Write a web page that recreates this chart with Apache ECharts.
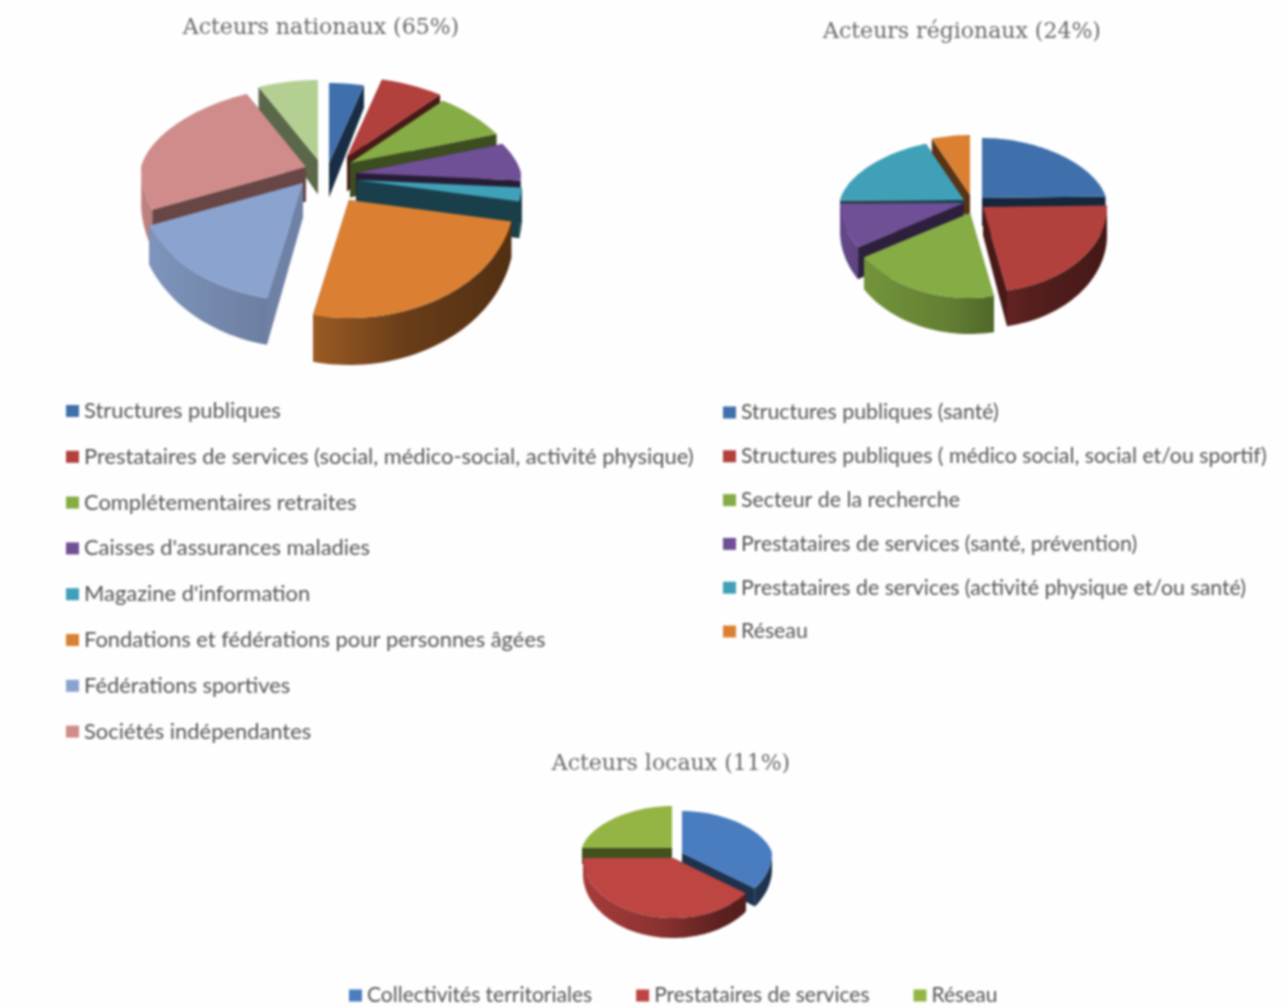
<!DOCTYPE html>
<html><head><meta charset="utf-8">
<script src="https://cdn.jsdelivr.net/npm/echarts@6/dist/echarts.min.js"></script>
<style>html,body{margin:0;padding:0;background:#fefefe}#c{width:1285px;height:1007px;filter:blur(0.9px)}</style>
</head><body><div id="c"></div>
<script>
// ---- data (shares in %) ----
const nationalTitle = 'Acteurs nationaux (65%)';
const nationalLabels = ['Structures publiques','Prestataires de services (social, médico-social, activité physique)','Complétementaires retraites',"Caisses d'assurances maladies","Magazine d'information",'Fondations et fédérations pour personnes âgées','Fédérations sportives','Sociétés indépendantes','Autres (sans légende)'];
const nationalValues = [3.9,6.9,8.3,6.9,1.9,25.6,15.6,24.2,6.7];
const regionalTitle = 'Acteurs régionaux (24%)';
const regionalLabels = ['Structures publiques (santé)','Structures publiques ( médico social, social et/ou sportif)','Secteur de la recherche','Prestataires de services (santé, prévention)','Prestataires de services (activité physique et/ou santé)','Réseau'];
const regionalValues = [24.6,22.3,19.4,8.6,19.4,5.7];
const localTitle = 'Acteurs locaux (11%)';
const localLabels = ['Collectivités territoriales','Prestataires de services','Réseau'];
const localValues = [35,40,25];
// ---- styles ----
const nationalColors = ['#3f70ac','#b2403d','#86ac45','#6f4f96','#3fa0b8','#db8033','#8ba3cf','#cf8c8a','#b4cf92'];
const regionalColors = ['#3f70ac','#b2403d','#86ac45','#6f4f96','#3fa0b8','#db8033'];
const localColors = ['#4a7cc0','#bd4542','#94b444'];
// how far each slice is pulled out of the pie
const nationalPull = [[-1,-9],[17,-15],[20,-9],[26,1],[27,8],[19,28],[-27,11],[-24,-5],[-12,-12]];
const regionalPull = [[10,-4],[11,5],[-2,11],[-8,1],[-8,-2],[-2,-7]];
const localPull = [[7,0],[-2,5],[-3,-5]];
const nationalSide = [.4,.4,.45,.35,.4,.4,.8,.5,.5];
const regionalSide = [.35,.4,.5,.4,.4,.4];
const localSide = [.4,.4,.45];

function shade(hex,f){const n=parseInt(hex.slice(1),16);
  const r=(n>>16)&255,g=(n>>8)&255,b=n&255;
  return 'rgb('+Math.round(r*f)+','+Math.round(g*f)+','+Math.round(b*f)+')';}

const series=[];
function addPie(labels,values,colors,pull,side,geo){
  const total=values.reduce((a,b)=>a+b,0);
  let acc=0;
  labels.forEach((name,i)=>{
    const a0=acc/total*2*Math.PI; acc+=values[i];
    const a1=acc/total*2*Math.PI, mid=(a0+a1)/2;
    const ax=geo.cx+pull[i][0], ay=geo.cy+pull[i][1];
    const proj=a=>{const yn=-Math.cos(a);
      const w=geo.rx*(yn<0?1+0.13*yn:1);
      return [ax+w*Math.sin(a), ay+yn*(yn>0?geo.ryB:geo.ryT), yn];};
    const dep=yn=>geo.dF+(geo.dN-geo.dF)*(yn+1)/2;
    series.push({
      type:'custom',name:name,coordinateSystem:'none',silent:true,animation:false,
      z:Math.round(50-50*Math.cos(mid))+2,
      itemStyle:{color:colors[i]},
      data:[[values[i]]],
      renderItem:function(){
        const c=colors[i], kids=[];
        const n=Math.max(3,Math.round((a1-a0)/(Math.PI/90)));
        const arc=[];for(let k=0;k<=n;k++)arc.push(proj(a0+(a1-a0)*k/n));
        const fill=(pts,f)=>({type:'polygon',shape:{points:pts},style:{fill:f}});
        const sideF=shade(c,side[i]);
        const d0=dep(0);
        [arc[0],arc[n]].forEach(p=>{
          kids.push(fill([[ax,ay],[p[0],p[1]],[p[0],p[1]+dep(p[2])],[ax,ay+d0]],sideF));
        });
        const front=arc.filter(p=>p[2]>-0.02);
        if(front.length>1){
          const pts=front.map(p=>[p[0],p[1]]).concat(front.slice().reverse().map(p=>[p[0],p[1]+dep(p[2])]));
          const grad=new echarts.graphic.LinearGradient(geo.cx-geo.rx-25,0,geo.cx+geo.rx+25,0,[
            {offset:0,color:shade(c,.92)},{offset:.42,color:shade(c,.74)},{offset:.7,color:shade(c,.48)},{offset:1,color:shade(c,.36)}],true);
          kids.push(fill(pts,grad));
        }
        kids.push(fill([[ax,ay]].concat(arc.map(p=>[p[0],p[1]])),c));
        return {type:'group',children:kids};
      }
    });
  });
}
addPie(nationalLabels,nationalValues,nationalColors,nationalPull,nationalSide,{cx:330,cy:172,rx:165,ryT:80,ryB:118,dF:22,dN:47});
addPie(regionalLabels,regionalValues,regionalColors,regionalPull,regionalSide,{cx:972,cy:202,rx:124,ryT:60,ryB:85,dF:20,dN:36});
addPie(localLabels,localValues,localColors,localPull,localSide,{cx:675,cy:853,rx:90,ryT:42,ryB:60,dF:12,dN:20});

const legendText=s=>({color:'#555',fontFamily:'Lato',fontSize:s});
const legItems=(labels,colors,count)=>labels.slice(0,count).map((n,i)=>({name:n,icon:'rect',itemStyle:{color:colors[i]}}));
const titleText=(t,x,y)=>({text:t,left:x,top:y,padding:0,textAlign:'center',textStyle:{fontFamily:'DejaVu Serif',fontWeight:'normal',fontSize:22,color:'#6a6a6a'}});

const option={
  backgroundColor:'#fefefe',animation:false,
  title:[titleText(nationalTitle,321,17),titleText(regionalTitle,962,21),titleText(localTitle,671,753)],
  legend:[
    {data:legItems(nationalLabels,nationalColors,8),orient:'vertical',left:66,top:400,itemWidth:13,itemHeight:12,itemGap:23.8,textStyle:legendText(21.9),selectedMode:false,padding:0},
    {data:legItems(regionalLabels,regionalColors,6),orient:'vertical',left:723,top:402,itemWidth:13,itemHeight:12,itemGap:22.8,textStyle:legendText(21.3),selectedMode:false,padding:0},
    {data:legItems(localLabels,localColors,3),orient:'horizontal',left:349,top:985,itemWidth:13,itemHeight:12,itemGap:44,textStyle:legendText(21),selectedMode:false,padding:0}
  ],
  series:series
};
const chart=echarts.init(document.getElementById('c'),null,{renderer:'canvas'});
chart.setOption(option);
</script></body></html>
